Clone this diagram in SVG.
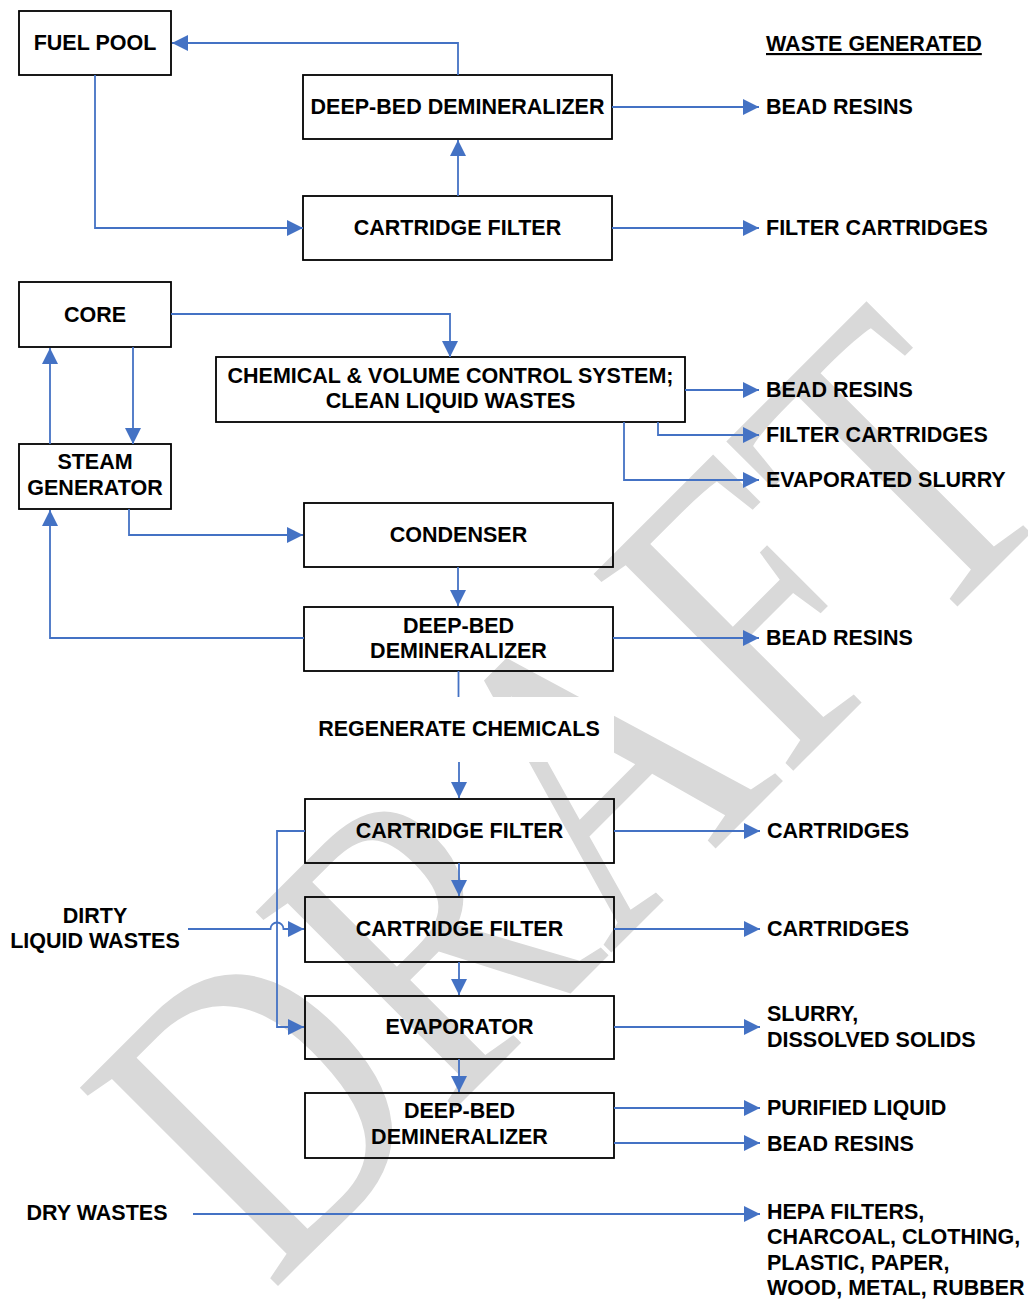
<svg xmlns="http://www.w3.org/2000/svg" width="1028" height="1299" viewBox="0 0 1028 1299">
<style>
.box{fill:none;stroke:#000;stroke-width:1.8}
.t{font-family:"Liberation Sans",Arial,sans-serif;font-weight:bold;font-size:21.5px;fill:#000}
.c{text-anchor:middle}
.ln{fill:none;stroke:#4472C4;stroke-width:1.8}
.ar{marker-end:url(#ah)}
.wm{font-family:"Liberation Serif","Times New Roman",serif;font-size:428px;fill:#d9d9d9}
</style>
<defs>
<marker id="ah" viewBox="0 0 16 16" refX="16" refY="8" markerWidth="16" markerHeight="16" markerUnits="userSpaceOnUse" orient="auto"><path d="M0,0 L16,8 L0,16 z" fill="#4472C4"/></marker>
</defs>
<rect x="0" y="0" width="1028" height="1299" fill="#fff"/>
<g id="watermark">
<text class="wm" transform="translate(271,1293) rotate(-45) scale(0.804,1)">DRAFT</text>
</g>
<rect x="303" y="697" width="311" height="65" fill="#fff"/>

<g id="fuel-pool"><rect class="box" x="19" y="11" width="152" height="64"/><text class="t c" x="95" y="50">FUEL POOL</text></g>
<g id="ddm-top"><rect class="box" x="303" y="75" width="309" height="64"/><text class="t c" x="457.5" y="114">DEEP-BED DEMINERALIZER</text></g>
<g id="cf-top"><rect class="box" x="303" y="196" width="309" height="64"/><text class="t c" x="457.5" y="235">CARTRIDGE FILTER</text></g>
<g id="waste-title"><text class="t" x="766" y="51" text-decoration="underline">WASTE GENERATED</text></g>
<g id="out-bead1"><text class="t" x="766" y="114">BEAD RESINS</text></g>
<g id="out-fc1"><text class="t" x="766" y="235">FILTER CARTRIDGES</text></g>

<g id="core"><rect class="box" x="19" y="282" width="152" height="65"/><text class="t c" x="95" y="322">CORE</text></g>
<g id="cvcs"><rect class="box" x="216" y="357" width="469" height="65"/><text class="t c" x="450.5" y="383">CHEMICAL &amp; VOLUME CONTROL SYSTEM;</text><text class="t c" x="450.5" y="408">CLEAN LIQUID WASTES</text></g>
<g id="steam-gen"><rect class="box" x="19" y="444" width="152" height="65"/><text class="t c" x="95" y="469">STEAM</text><text class="t c" x="95" y="495">GENERATOR</text></g>
<g id="out-bead2"><text class="t" x="766" y="397">BEAD RESINS</text></g>
<g id="out-fc2"><text class="t" x="766" y="442">FILTER CARTRIDGES</text></g>
<g id="out-evs"><text class="t" x="766" y="487">EVAPORATED SLURRY</text></g>
<g id="condenser"><rect class="box" x="304" y="503" width="309" height="64"/><text class="t c" x="458.5" y="542">CONDENSER</text></g>
<g id="ddm-mid"><rect class="box" x="304" y="607" width="309" height="64"/><text class="t c" x="458.5" y="633">DEEP-BED</text><text class="t c" x="458.5" y="658">DEMINERALIZER</text></g>
<g id="out-bead3"><text class="t" x="766" y="645">BEAD RESINS</text></g>
<g id="regen"><text class="t c" x="459" y="736">REGENERATE CHEMICALS</text></g>

<g id="cf1"><rect class="box" x="305" y="799" width="309" height="64"/><text class="t c" x="459.5" y="838">CARTRIDGE FILTER</text></g>
<g id="cf2"><rect class="box" x="305" y="897" width="309" height="65"/><text class="t c" x="459.5" y="936">CARTRIDGE FILTER</text></g>
<g id="evap"><rect class="box" x="305" y="996" width="309" height="63"/><text class="t c" x="459.5" y="1034">EVAPORATOR</text></g>
<g id="ddm-bot"><rect class="box" x="305" y="1093" width="309" height="65"/><text class="t c" x="459.5" y="1118">DEEP-BED</text><text class="t c" x="459.5" y="1144">DEMINERALIZER</text></g>
<g id="dirty"><text class="t c" x="95" y="923">DIRTY</text><text class="t c" x="95" y="948">LIQUID WASTES</text></g>
<g id="dry"><text class="t c" x="97" y="1220">DRY WASTES</text></g>
<g id="out-cart1"><text class="t" x="767" y="838">CARTRIDGES</text></g>
<g id="out-cart2"><text class="t" x="767" y="936">CARTRIDGES</text></g>
<g id="out-slurry"><text class="t" x="767" y="1021">SLURRY,</text><text class="t" x="767" y="1047">DISSOLVED SOLIDS</text></g>
<g id="out-purified"><text class="t" x="767" y="1115">PURIFIED LIQUID</text></g>
<g id="out-bead4"><text class="t" x="767" y="1151">BEAD RESINS</text></g>
<g id="out-dry"><text class="t" x="767" y="1219">HEPA FILTERS,</text><text class="t" x="767" y="1244">CHARCOAL, CLOTHING,</text><text class="t" x="767" y="1270">PLASTIC, PAPER,</text><text class="t" x="767" y="1295">WOOD, METAL, RUBBER</text></g>

<g id="connectors">
<path class="ln ar" d="M458,75 V43 H172"/>
<path class="ln ar" d="M95,75 V228 H303"/>
<path class="ln ar" d="M458,196 V140"/>
<path class="ln ar" d="M612,107 H759"/>
<path class="ln ar" d="M612,228 H759"/>
<path class="ln ar" d="M171,314 H450 V357"/>
<path class="ln ar" d="M133,347 V444"/>
<path class="ln ar" d="M50,444 V348"/>
<path class="ln ar" d="M685,390 H759"/>
<path class="ln ar" d="M658,422 V435 H759"/>
<path class="ln ar" d="M624,422 V480 H759"/>
<path class="ln ar" d="M129,509 V535 H303"/>
<path class="ln ar" d="M458,567 V606"/>
<path class="ln ar" d="M304,638 H50 V510"/>
<path class="ln ar" d="M613,638 H759"/>
<path class="ln" d="M458.5,671 V697"/>
<path class="ln ar" d="M459,762 V798"/>
<path class="ln ar" d="M614,831 H760"/>
<path class="ln ar" d="M459,863 V896"/>
<path class="ln ar" d="M614,929 H760"/>
<path class="ln ar" d="M459,962 V995"/>
<path class="ln ar" d="M614,1027 H760"/>
<path class="ln ar" d="M459,1059 V1092"/>
<path class="ln ar" d="M614,1108 H760"/>
<path class="ln ar" d="M614,1143 H760"/>
<path class="ln ar" d="M305,831 H277 V1027 H304"/>
<path class="ln ar" d="M188,929 H270.5 A6.5,6.5 0 0 1 283.5,929 H304"/>
<path class="ln ar" d="M193,1214 H760"/>
</g>
</svg>
